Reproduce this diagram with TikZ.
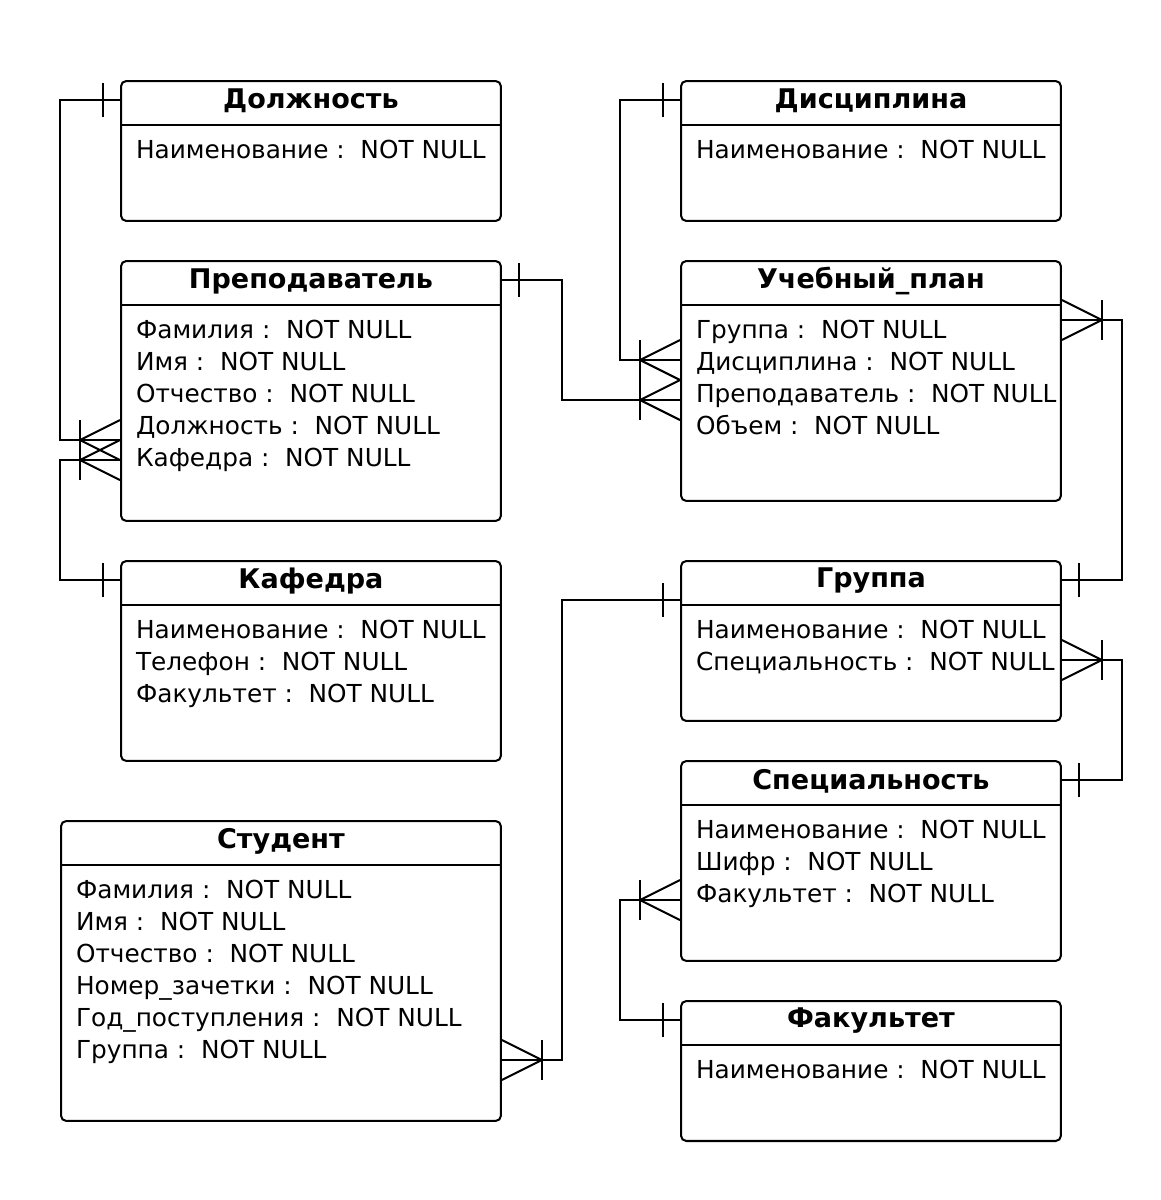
\documentclass[tikz,border=0pt]{standalone}
\usepackage{fontspec}
\setmainfont{DejaVu Sans}
\usetikzlibrary{positioning,calc}

\tikzset{
  crowone/.pic={\draw (-17,-17) -- (-17,17);},
  crowmany/.pic={\draw (-40,-20) -- (-40,20);
    \draw (0,-20) -- (-40,0) -- (0,20);}
}

\begin{document}
\begin{tikzpicture}[x=0.02cm,y=-0.02cm,line width=1.15pt]
        % Define styles
        \tikzstyle{entity} = [rectangle, draw, rounded corners=3pt,
            inner sep=0pt, anchor=north west, minimum width=7.6cm]
        \tikzstyle{title} = [font=\bfseries\fontsize{15.4}{18}\selectfont, inner sep=0pt]
        \tikzstyle{attrs} = [font=\fontsize{14.1}{18.2}\selectfont, align=left,
            anchor=north west, inner sep=0pt]

        \useasboundingbox (0,0) rectangle (1160,1200);

        % Entities
        \node [entity, minimum height=2.8cm] (dolzh) at (120,80) {};
        \node [entity, minimum height=5.2cm] (prep) at (120,260) {};
        \node [entity, minimum height=4.0cm] (kaf) at (120,560) {};
        \node [entity, minimum height=6.0cm, minimum width=8.8cm] (stud) at (60,820) {};
        \node [entity, minimum height=2.8cm] (disc) at (680,80) {};
        \node [entity, minimum height=4.8cm] (plan) at (680,260) {};
        \node [entity, minimum height=3.2cm] (grp) at (680,560) {};
        \node [entity, minimum height=4.0cm] (spec) at (680,760) {};
        \node [entity, minimum height=2.8cm] (fak) at (680,1000) {};

        % Header lines
        \foreach \e in {dolzh,prep,kaf,stud,disc,plan,grp,spec,fak}
            \draw ($(\e.north west)+(0,45)$) -- ($(\e.north east)+(0,45)$);

        % Titles
        \node [title] (dolzh-t) at ($(dolzh.north)+(0,21)$) {Должность};
        \node [title] (prep-t) at ($(prep.north)+(0,21)$) {Преподаватель};
        \node [title] (kaf-t) at ($(kaf.north)+(0,21)$) {Кафедра};
        \node [title] (stud-t) at ($(stud.north)+(0,21)$) {Студент};
        \node [title] (disc-t) at ($(disc.north)+(0,21)$) {Дисциплина};
        \node [title] (plan-t) at ($(plan.north)+(0,21)$) {Учебный\_план};
        \node [title] (grp-t) at ($(grp.north)+(0,21)$) {Группа};
        \node [title] (spec-t) at ($(spec.north)+(0,21)$) {Специальность};
        \node [title] (fak-t) at ($(fak.north)+(0,21)$) {Факультет};

        % Attributes
        \node [attrs] (dolzh-a) at ($(dolzh.north west)+(15,59)$)
            {Наименование :\ \ NOT NULL};
        \node [attrs] (prep-a) at ($(prep.north west)+(15,59)$)
            {Фамилия :\ \ NOT NULL\\Имя :\ \ NOT NULL\\Отчество :\ \ NOT NULL\\
             Должность :\ \ NOT NULL\\Кафедра :\ \ NOT NULL};
        \node [attrs] (kaf-a) at ($(kaf.north west)+(15,59)$)
            {Наименование :\ \ NOT NULL\\Телефон :\ \ NOT NULL\\Факультет :\ \ NOT NULL};
        \node [attrs] (stud-a) at ($(stud.north west)+(15,59)$)
            {Фамилия :\ \ NOT NULL\\Имя :\ \ NOT NULL\\Отчество :\ \ NOT NULL\\
             Номер\_зачетки :\ \ NOT NULL\\Год\_поступления :\ \ NOT NULL\\Группа :\ \ NOT NULL};
        \node [attrs] (disc-a) at ($(disc.north west)+(15,59)$)
            {Наименование :\ \ NOT NULL};
        \node [attrs] (plan-a) at ($(plan.north west)+(15,59)$)
            {Группа :\ \ NOT NULL\\Дисциплина :\ \ NOT NULL\\Преподаватель :\ \ NOT NULL\\
             Объем :\ \ NOT NULL};
        \node [attrs] (grp-a) at ($(grp.north west)+(15,59)$)
            {Наименование :\ \ NOT NULL\\Специальность :\ \ NOT NULL};
        \node [attrs] (spec-a) at ($(spec.north west)+(15,59)$)
            {Наименование :\ \ NOT NULL\\Шифр :\ \ NOT NULL\\Факультет :\ \ NOT NULL};
        \node [attrs] (fak-a) at ($(fak.north west)+(15,59)$)
            {Наименование :\ \ NOT NULL};

        % Relationships
        \draw ($(dolzh.north west)+(0,20)$) coordinate (r1a) -- ++(-60,0)
            |- ($(prep.north west)+(0,180)$) coordinate (r1b);
        \path (r1a) pic {crowone} (r1b) pic {crowmany};

        \draw ($(kaf.north west)+(0,20)$) coordinate (r2a) -- ++(-60,0)
            |- ($(prep.north west)+(0,200)$) coordinate (r2b);
        \path (r2a) pic {crowone} (r2b) pic {crowmany};

        \draw ($(prep.north east)+(0,20)$) coordinate (r3a) -- ++(60,0)
            |- ($(plan.north west)+(0,140)$) coordinate (r3b);
        \path (r3a) pic[xscale=-1] {crowone} (r3b) pic {crowmany};

        \draw ($(disc.north west)+(0,20)$) coordinate (r4a) -- ++(-60,0)
            |- ($(plan.north west)+(0,100)$) coordinate (r4b);
        \path (r4a) pic {crowone} (r4b) pic {crowmany};

        \draw ($(plan.north east)+(0,60)$) coordinate (r5a) -- ++(60,0)
            |- ($(grp.north east)+(0,20)$) coordinate (r5b);
        \path (r5a) pic[xscale=-1] {crowmany} (r5b) pic[xscale=-1] {crowone};

        \draw ($(grp.north east)+(0,100)$) coordinate (r6a) -- ++(60,0)
            |- ($(spec.north east)+(0,20)$) coordinate (r6b);
        \path (r6a) pic[xscale=-1] {crowmany} (r6b) pic[xscale=-1] {crowone};

        \draw ($(stud.north east)+(0,240)$) coordinate (r7a) -- ++(60,0)
            |- ($(grp.north west)+(0,40)$) coordinate (r7b);
        \path (r7a) pic[xscale=-1] {crowmany} (r7b) pic {crowone};

        \draw ($(fak.north west)+(0,20)$) coordinate (r8a) -- ++(-60,0)
            |- ($(spec.north west)+(0,140)$) coordinate (r8b);
        \path (r8a) pic {crowone} (r8b) pic {crowmany};
    \end{tikzpicture}
\end{document}
